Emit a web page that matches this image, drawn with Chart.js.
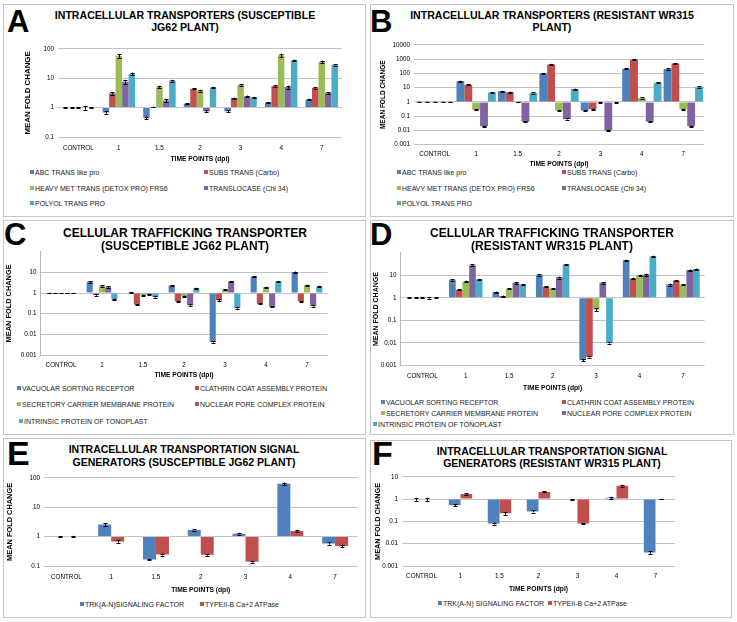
<!DOCTYPE html>
<html>
<head>
<meta charset="utf-8">
<script src="https://cdn.jsdelivr.net/npm/chart.js@4.4.1/dist/chart.umd.min.js"></script>
<style>
  body { margin: 0; background: #fff; font-family: "Liberation Sans", Arial, sans-serif; }
  #fig { position: relative; width: 737px; height: 622px; overflow: hidden; background: #fff; }
  .box { position: absolute; border: 1px solid #c6c6c6; box-sizing: border-box; }
  .letter { position: absolute; font-weight: bold; line-height: 1; color: #000; }
  .tline { position: absolute; font-weight: bold; line-height: 1; white-space: nowrap; color: #000; }
  .fig-canvas { position: absolute; }
  .leg { position: absolute; font-size: 7px; line-height: 8px; height: 8px; white-space: nowrap; color: #222; }
  .leg i { display: inline-block; width: 4px; height: 4px; margin-right: 1px; vertical-align: 1px; }
</style>
</head>
<body>
<div id="fig"></div>
<script>
const timePoints = ["CONTROL", "1", "1.5", "2", "3", "4", "7"];
const seriesColors = ["#4f81bd", "#c0504d", "#9bbb59", "#8064a2", "#4bacc6"];
const FONT = "'Liberation Sans', Arial, sans-serif";

// A - intracellular transporters, susceptible JG62
const aLabels = ["ABC TRANS like pro", "SUBS TRANS (Carbo)", "HEAVY MET TRANS (DETOX PRO) FRS6", "TRANSLOCASE (Chl 34)", "POLYOL TRANS PRO"];
const aAbc = [1, 0.68, 0.45, 1.35, 0.75, 1.5, 1.9];
const aSubs = [1, 3.1, 1.05, 4.4, 2.1, 5.4, 4.6];
const aHeavy = [1, 57, 5, 3.8, 6, 60, 36];
const aTransl = [1, 7.5, 1.75, 0.75, 2.4, 5, 3.2];
const aPolyol = [1, 14, 8, 4.8, 2.2, 40, 28];
const aAbcErr = [0.03, 0.06, 0.04, 0.07, 0.06, 0.08, 0.1];
const aSubsErr = [0.03, 0.35, 0.03, 0.2, 0.1, 0.5, 0.4];
const aHeavyErr = [0.05, 7, 0.5, 0.3, 0.4, 8, 3.5];
const aTranslErr = [0.15, 1.3, 0.15, 0.06, 0.15, 0.6, 0.2];
const aPolyolErr = [0.03, 1.6, 0.8, 0.3, 0.15, 3, 1.5];
const aTicks = [0.1, 1, 10, 100];

// B - intracellular transporters, resistant WR315
const bAbc = [1, 28, 5.6, 95, 0.25, 210, 200];
const bSubs = [1, 16, 4.8, 420, 0.31, 900, 480];
const bHeavy = [1, 0.28, 1.0, 0.25, 0.95, 1.9, 0.3];
const bTransl = [1, 0.02, 0.04, 0.064, 0.01, 0.04, 0.02];
const bPolyol = [1, 4.5, 4.2, 7.9, 0.9, 22, 11];
const bAbcErr = [0.05, 2.5, 0.4, 8, 0.02, 20, 20];
const bSubsErr = [0.05, 1.5, 0.4, 40, 0.03, 80, 40];
const bHeavyErr = [0.05, 0.03, 0.05, 0.03, 0.05, 0.2, 0.03];
const bTranslErr = [0.05, 0.002, 0.004, 0.006, 0.001, 0.004, 0.002];
const bPolyolErr = [0.05, 0.4, 0.4, 0.7, 0.05, 2, 1];
const bTicks = [0.001, 0.01, 0.1, 1, 10, 100, 1000, 10000];

// C - cellular trafficking, susceptible JG62
const cLabels = ["VACUOLAR SORTING RECEPTOR", "CLATHRIN COAT ASSEMBLY PROTEIN", "SECRETORY CARRIER MEMBRANE PROTEIN", "NUCLEAR PORE COMPLEX PROTEIN", "INTRINSIC PROTEIN OF TONOPLAST"];
const cVsr = [1, 3.5, 1.05, 2.3, 0.0043, 6.2, 10.4];
const cClath = [1, 0.8, 0.28, 0.39, 0.45, 0.3, 0.4];
const cScmp = [1, 2.2, 0.8, 0.7, 1.45, 1.9, 2.4];
const cNpc = [1, 1.9, 0.85, 0.26, 3.6, 0.22, 0.24];
const cItp = [1, 0.5, 0.65, 1.7, 0.19, 3.6, 2.1];
const cVsrErr = [0.03, 0.3, 0.05, 0.15, 0.0004, 0.4, 0.6];
const cClathErr = [0.03, 0.06, 0.02, 0.03, 0.04, 0.02, 0.03];
const cScmpErr = [0.03, 0.15, 0.05, 0.05, 0.1, 0.12, 0.15];
const cNpcErr = [0.03, 0.2, 0.06, 0.02, 0.25, 0.015, 0.02];
const cItpErr = [0.03, 0.04, 0.05, 0.1, 0.015, 0.25, 0.15];
const cTicks = [0.001, 0.01, 0.1, 1, 10];

// D - cellular trafficking, resistant WR315
const dVsr = [1, 6.1, 1.8, 10.3, 0.0017, 46, 3.9];
const dClath = [1, 2.3, 1.2, 3.1, 0.0024, 7.2, 5.7];
const dScmp = [1, 5.3, 2.5, 2.6, 0.3, 10, 3.8];
const dNpc = [1, 28, 4.5, 7.9, 4.6, 10.5, 17];
const dItp = [1, 6.5, 3.9, 30, 0.01, 69, 19];
const dVsrErr = [0.03, 0.4, 0.1, 0.6, 0.0002, 4, 0.4];
const dClathErr = [0.03, 0.15, 0.06, 0.2, 0.0002, 0.7, 0.3];
const dScmpErr = [0.03, 0.5, 0.15, 0.15, 0.04, 0.6, 0.2];
const dNpcErr = [0.1, 2.5, 0.6, 0.8, 0.3, 1.2, 1];
const dItpErr = [0.03, 0.5, 0.2, 1.5, 0.0008, 5, 1];
const dTicks = [0.001, 0.01, 0.1, 1, 10];

// E - signal generators, susceptible JG62
const eLabels = ["TRK(A-N)SIGNALING FACTOR", "TYPEII-B Ca+2 ATPase"];
const eTrk = [1, 2.6, 0.165, 1.67, 1.26, 63, 0.58];
const eType = [1, 0.68, 0.245, 0.24, 0.14, 1.55, 0.48];
const eTrkErr = [0.05, 0.25, 0.01, 0.08, 0.1, 6, 0.05];
const eTypeErr = [0.06, 0.06, 0.02, 0.015, 0.01, 0.12, 0.05];
const eTicks = [0.1, 1, 10, 100];

// F - signal generators, resistant WR315
const fLabels = ["TRK(A-N) SIGNALING FACTOR", "TYPEII-B Ca+2 ATPase"];
const fTrk = [1, 0.53, 0.08, 0.28, 0.95, 1.15, 0.004];
const fType = [1, 1.7, 0.23, 2.1, 0.08, 4, 1.0];
const fTrkErr = [0.15, 0.06, 0.008, 0.03, 0.02, 0.12, 0.0005];
const fTypeErr = [0.15, 0.12, 0.03, 0.1, 0.005, 0.4, 0.03];
const fTicks = [0.001, 0.01, 0.1, 1, 10];

// layout of the six panels (page pixels)
const panels = [
  { box: [3, 4, 363, 213], letter: "A", letterPos: [8, 10], letterSize: 31,
    title: ["INTRACELLULAR TRANSPORTERS (SUSCEPTIBLE", "JG62 PLANT)"], titlePos: [184.5, 15.7, 27.7], titleSize: 11.5, titleSquash: 0.92,
    plot: { l: 58, r: 342, t: 47, b: 137 }, min: 0.1, max: 100, ticks: aTicks, catPct: 0.8,
    xPad: 7.5, xTitleY: 159, yTitleX: 28, yTitleSize: 7.9, yBorder: false,
    labels: aLabels, series: [aAbc, aSubs, aHeavy, aTransl, aPolyol],
    errors: [aAbcErr, aSubsErr, aHeavyErr, aTranslErr, aPolyolErr],
    legendPos: [[30, 173], [204, 173], [30, 189], [204, 189], [30, 204]] },
  { box: [370, 4, 364, 213], letter: "B", letterPos: [371, 10], letterSize: 31,
    title: ["INTRACELLULAR TRANSPORTERS (RESISTANT WR315", "PLANT)"], titlePos: [552, 15.7, 27.7], titleSize: 11.5, titleSquash: 0.92,
    plot: { l: 414, r: 704, t: 43.3, b: 144.7 }, min: 0.001, max: 10000, ticks: bTicks, catPct: 0.95,
    xPad: 6, xTitleY: 164, yTitleX: 383, yTitleSize: 6.5, yBorder: false,
    labels: aLabels, series: [bAbc, bSubs, bHeavy, bTransl, bPolyol],
    errors: [bAbcErr, bSubsErr, bHeavyErr, bTranslErr, bPolyolErr],
    legendPos: [[397, 173], [562, 173], [397, 189], [562, 189], [397, 204]] },
  { box: [3, 220, 363, 215], letter: "C", letterPos: [5, 223], letterSize: 31,
    title: ["CELLULAR TRAFFICKING TRANSPORTER", "(SUSCEPTIBLE JG62 PLANT)"], titlePos: [185, 232.7, 246], titleSize: 12, titleSquash: 1,
    plot: { l: 40.5, r: 327.5, t: 250, b: 355 }, min: 0.001, max: 100, ticks: cTicks, catPct: 0.75,
    xPad: 6.5, xTitleY: 375, yTitleX: 9.5, yTitleSize: 7.4, yBorder: true,
    labels: cLabels, series: [cVsr, cClath, cScmp, cNpc, cItp],
    errors: [cVsrErr, cClathErr, cScmpErr, cNpcErr, cItpErr],
    legendPos: [[17, 389], [195, 389], [17, 405], [195, 405], [19, 422]] },
  { box: [370, 220, 364, 215], letter: "D", letterPos: [371, 223], letterSize: 31,
    title: ["CELLULAR TRAFFICKING TRANSPORTER", "(RESISTANT WR315 PLANT)"], titlePos: [552, 233, 246], titleSize: 12, titleSquash: 1,
    plot: { l: 400.6, r: 704.7, t: 250.8, b: 365.3 }, min: 0.001, max: 100, ticks: dTicks, catPct: 0.77,
    xPad: 7, xTitleY: 388, yTitleX: 376, yTitleSize: 7, yBorder: true,
    labels: cLabels, series: [dVsr, dClath, dScmp, dNpc, dItp],
    errors: [dVsrErr, dClathErr, dScmpErr, dNpcErr, dItpErr],
    legendPos: [[381, 403], [562, 403], [381, 414], [562, 414], [373, 425]] },
  { box: [3, 438, 363, 180], letter: "E", letterPos: [8, 440], letterSize: 34,
    title: ["INTRACELLULAR TRANSPORTATION SIGNAL", "GENERATORS (SUSCEPTIBLE JG62 PLANT)"], titlePos: [184, 449, 462], titleSize: 10.5, titleSquash: 1,
    plot: { l: 44, r: 357.5, t: 476, b: 566 }, min: 0.1, max: 100, ticks: eTicks, catPct: 0.58,
    xPad: 7, xTitleY: 590, yTitleX: 10, yTitleSize: 7.4, yBorder: false,
    labels: eLabels, series: [eTrk, eType], errors: [eTrkErr, eTypeErr],
    legendPos: [[80, 605], [200, 605]] },
  { box: [370, 440, 362, 178], letter: "F", letterPos: [373, 440], letterSize: 34,
    title: ["INTRACELLULAR TRANSPORTATION SIGNAL", "GENERATORS (RESISTANT WR315 PLANT)"], titlePos: [552, 450.7, 462.7], titleSize: 10.5, titleSquash: 1,
    plot: { l: 402, r: 675, t: 475, b: 566 }, min: 0.001, max: 10, ticks: fTicks, catPct: 0.6,
    xPad: 6, xTitleY: 589, yTitleX: 378, yTitleSize: 7.3, yBorder: false,
    labels: fLabels, series: [fTrk, fType], errors: [fTrkErr, fTypeErr],
    legendPos: [[438, 604], [548, 604]] }
];

// small black whiskers on top of each bar
const errorBars = {
  id: "errorBars",
  afterDatasetsDraw(chart) {
    const ctx = chart.ctx;
    const yScale = chart.scales.y;
    ctx.save();
    ctx.strokeStyle = "#000";
    ctx.lineWidth = 1;
    chart.data.datasets.forEach((ds, di) => {
      if (!ds.errors) return;
      chart.getDatasetMeta(di).data.forEach((bar, i) => {
        const v = ds.data[i], e = ds.errors[i];
        const top = yScale.getPixelForValue(v + e);
        const bot = yScale.getPixelForValue(Math.max(v - e, v * 0.3));
        const x = Math.round(bar.x) + 0.5;
        ctx.beginPath();
        ctx.moveTo(x, top); ctx.lineTo(x, bot);
        ctx.moveTo(x - 2, Math.round(top) + 0.5); ctx.lineTo(x + 2, Math.round(top) + 0.5);
        ctx.moveTo(x - 2, Math.round(bot) + 0.5); ctx.lineTo(x + 2, Math.round(bot) + 0.5);
        ctx.stroke();
      });
    });
    ctx.restore();
  }
};

const fig = document.getElementById("fig");

function addDiv(cls, text, style) {
  const d = document.createElement("div");
  d.className = cls;
  if (text) d.textContent = text;
  Object.assign(d.style, style);
  fig.appendChild(d);
  return d;
}

function makePanel(p) {
  addDiv("box", "", { left: p.box[0] + "px", top: p.box[1] + "px", width: p.box[2] + "px", height: p.box[3] + "px" });
  addDiv("letter", p.letter, { left: (p.letterPos[0] - 1) + "px", top: (p.letterPos[1] - p.letterSize * 0.13) + "px", fontSize: p.letterSize + "px" });

  // chart canvas, sized so the plot area lands where the original has it
  const lhY = p.yTitleSize * 1.2, lhX = 6.7 * 1.2;
  const left = Math.round(p.yTitleX - lhY / 2);
  const top = Math.round(p.plot.t - 6);
  const right = Math.round(p.plot.r + 4);
  const bottom = Math.round(p.xTitleY + lhX / 2);
  const canvas = document.createElement("canvas");
  canvas.className = "fig-canvas";
  canvas.width = right - left;
  canvas.height = bottom - top;
  canvas.style.left = left + "px";
  canvas.style.top = top + "px";
  fig.appendChild(canvas);

  p.title.forEach((t, k) => {
    addDiv("tline", t, {
      left: p.titlePos[0] + "px", top: p.titlePos[k + 1] + "px", fontSize: p.titleSize + "px",
      transform: "translate(-50%, -50%) scaleX(" + p.titleSquash + ")"
    });
  });

  new Chart(canvas, {
    type: "bar",
    data: {
      labels: timePoints,
      datasets: p.series.map((s, k) => ({
        label: p.labels[k],
        data: s,
        errors: p.errors[k],
        backgroundColor: seriesColors[k],
        base: 1,
        barPercentage: 1,
        categoryPercentage: p.catPct
      }))
    },
    options: {
      responsive: false,
      animation: false,
      events: [],
      layout: { padding: { top: p.plot.t - top, right: right - p.plot.r, left: 0, bottom: 0 } },
      plugins: { legend: { display: false }, tooltip: { enabled: false } },
      scales: {
        x: {
          grid: { display: false, drawTicks: false },
          border: { display: false },
          ticks: { color: "#000", font: { size: 6.3, family: FONT }, padding: p.xPad, maxRotation: 0, autoSkip: false },
          title: { display: true, text: "TIME POINTS (dpi)", color: "#000", padding: 0, font: { size: 6.7, weight: "bold", family: FONT } },
          afterFit: (s) => { s.height = bottom - p.plot.b; }
        },
        y: {
          type: "logarithmic",
          min: p.min,
          max: p.max,
          afterBuildTicks: (s) => { s.ticks = p.ticks.map((v) => ({ value: v })); },
          ticks: { callback: (v) => String(v), autoSkip: false, color: "#000", font: { size: 6.3, family: FONT }, padding: 4 },
          grid: { color: "#c4c4c4", drawTicks: false },
          border: { display: p.yBorder, color: "#b8b8b8" },
          title: { display: true, text: "MEAN FOLD CHANGE", color: "#000", padding: 0, font: { size: p.yTitleSize, weight: "bold", family: FONT } },
          afterFit: (s) => { s.width = p.plot.l - left; }
        }
      }
    },
    plugins: [errorBars]
  });

  // legend, two columns like the original
  p.labels.forEach((lab, k) => {
    const item = addDiv("leg", "", { left: p.legendPos[k][0] + "px", top: (p.legendPos[k][1] - 4) + "px" });
    const sq = document.createElement("i");
    sq.style.background = seriesColors[k];
    item.appendChild(sq);
    item.appendChild(document.createTextNode(lab));
  });
}

panels.forEach(makePanel);
</script>
</body>
</html>
